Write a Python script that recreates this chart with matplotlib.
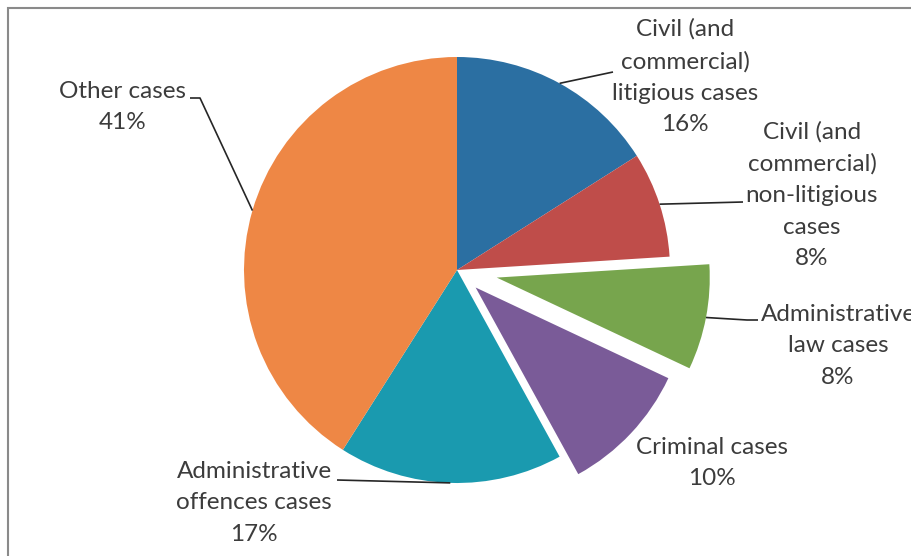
import numpy as np
import matplotlib
matplotlib.use("Agg")
import matplotlib.pyplot as plt
from matplotlib.patches import Rectangle

# Case categories, shares (%) and slice colours
categories = [
    "Civil (and\ncommercial)\nlitigious cases",
    "Civil (and\ncommercial)\nnon-litigious\ncases",
    "Administrative\nlaw cases",
    "Criminal cases",
    "Administrative\noffences cases",
    "Other cases",
]
shares = [16, 8, 8, 10, 17, 41]
colors = ["#2B6FA2", "#BF4D4A", "#77A54D", "#7A5B98", "#1A9AAF", "#EE8745"]
explode_frac = [0, 0, 0.19, 0.12, 0, 0]

W, H = 912, 556
fig = plt.figure(figsize=(W / 100, H / 100), dpi=100)
ax = fig.add_axes([0, 0, 1, 1])
ax.set_xlim(0, W)
ax.set_ylim(0, H)
ax.set_aspect("equal")
ax.axis("off")


def px(x, y):
    """Pixel layout position (origin top-left) to axes data coordinates."""
    return x, H - y


# outer frame
ax.add_patch(Rectangle(px(8, 600), 1000, 592, fill=False, ec="#8A8A8A", lw=1.5,
                       clip_on=False))

center = px(457, 270)
radius = 213
wedges, _ = ax.pie(shares, colors=colors, startangle=90, counterclock=False,
                   center=center, radius=radius,
                   explode=[e * radius for e in explode_frac],
                   wedgeprops=dict(linewidth=0))
ax.set_xlim(0, W)
ax.set_ylim(0, H)

# label centres (pixels) and leader-line elbows
label_pos = [(685, 77), (812, 195), (838, 346), (712, 463), (254, 503), (123, 107)]
leader_path = [
    [(613, 72)],
    [(743, 202)],
    [(747, 320), (758, 320)],
    None,
    [(337, 480)],
    [(200, 98), (190, 98)],
]

text_kw = dict(ha="center", va="center", multialignment="center",
               fontsize=17.5, color="#3C3C3C", family=["Lato", "DejaVu Sans"],
               linespacing=1.62, clip_on=False)

for w, name, val, pos, path in zip(wedges, categories, shares, label_pos, leader_path):
    ax.text(*px(*pos), f"{name}\n{val}%", **text_kw)
    if path is None:
        continue
    ang = np.deg2rad((w.theta1 + w.theta2) / 2)
    cx, cy = w.center
    start = (cx + radius * np.cos(ang), cy + radius * np.sin(ang))
    pts = [start] + [px(*p) for p in path]
    xs, ys = zip(*pts)
    ax.plot(xs, ys, color="#262626", lw=1.2, solid_capstyle="butt")

fig.savefig("out.png", dpi=100, facecolor="white")
